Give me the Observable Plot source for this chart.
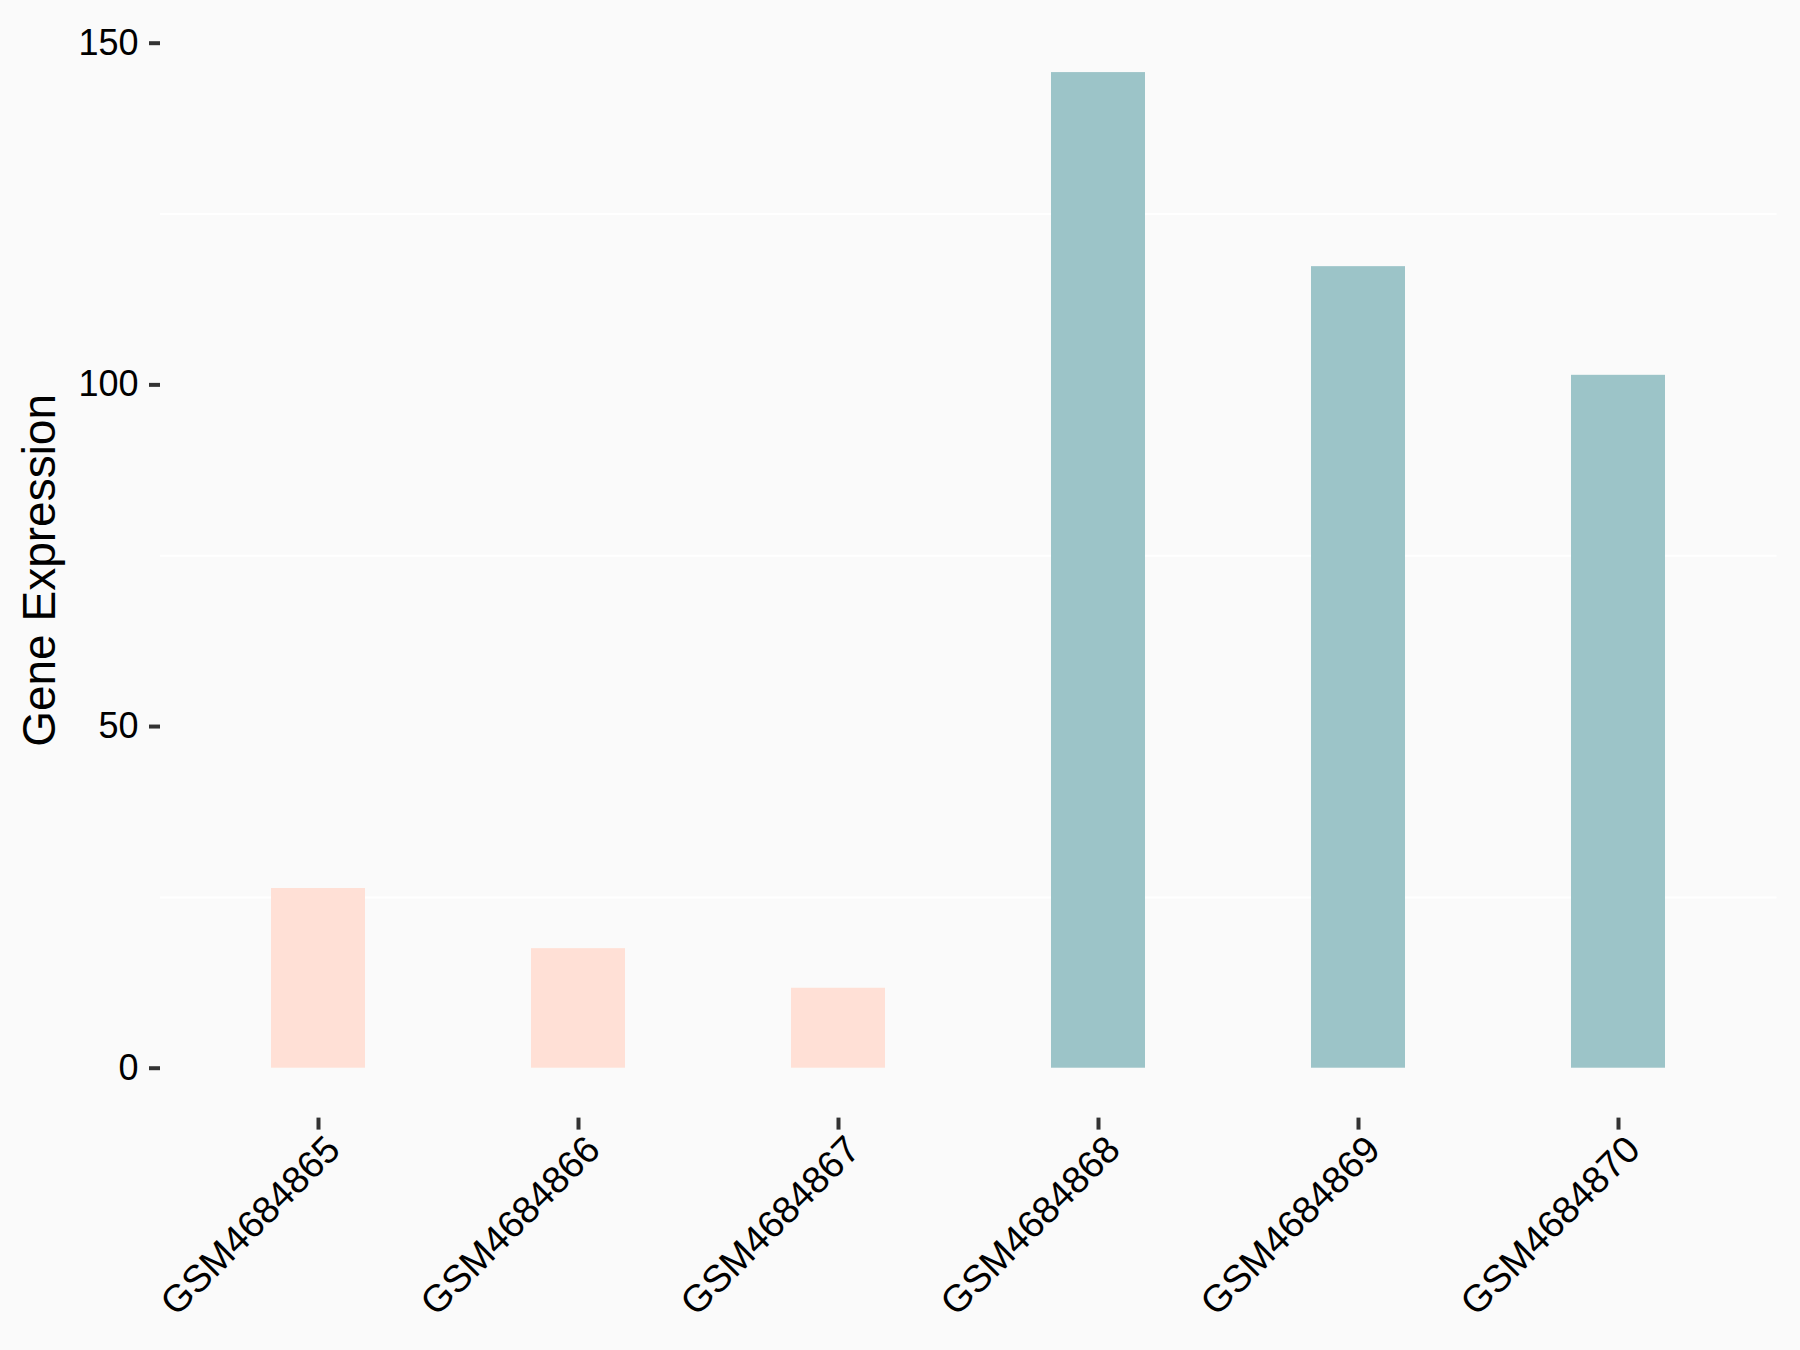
<!DOCTYPE html>
<html>
<head>
<meta charset="utf-8">
<script src="https://cdn.jsdelivr.net/npm/d3@7"></script>
<script src="https://cdn.jsdelivr.net/npm/@observablehq/plot@0.6"></script>
<style>
  html, body { margin: 0; padding: 0; background: #FAFAFA; }
  svg { display: block; }
</style>
</head>
<body>
<div id="chart"></div>
<script>
const samples = ["GSM4684865", "GSM4684866", "GSM4684867", "GSM4684868", "GSM4684869", "GSM4684870"];
const expression = [26.3, 17.5, 11.7, 145.7, 117.3, 101.4];
const groups = ["low", "low", "low", "high", "high", "high"];
const yTicks = [0, 50, 100, 150];
const gridValues = [25, 75, 125];
const yLabel = "Gene Expression";

const data = samples.map((s, i) => ({sample: s, value: expression[i], group: groups[i]}));

const chart = Plot.plot({
  width: 1800,
  height: 1350,
  marginLeft: 160,
  marginRight: 23.5,
  marginTop: 22.2,
  marginBottom: 232.4,
  style: {background: "#FAFAFA", fontFamily: "'Liberation Sans', Arial, sans-serif", color: "#000"},
  x: {domain: samples, paddingInner: 0.64, paddingOuter: 0.42},
  y: {domain: [-7.3, 153]},
  color: {domain: ["low", "high"], range: ["#FFE0D6", "#9CC4C8"]},
  marks: [
    Plot.ruleY(gridValues, {stroke: "#FFFFFF", strokeWidth: 2}),
    Plot.barY(data, {x: "sample", y: "value", fill: "group"}),
    Plot.axisY(yTicks, {tickSize: 11, tickPadding: 11, fontSize: 36, stroke: "#333333", strokeWidth: 4, label: null, fill: "#000"}),
    Plot.axisX({tickSize: 12, stroke: "#333333", strokeWidth: 4, label: null, fill: "none", fontSize: 1}),
    Plot.axisX({tickSize: 0, tickPadding: 22, tickRotate: -45, fontSize: 38, dx: 15, dy: 3, label: null, fill: "#000"}),
    Plot.text([yLabel], {frameAnchor: "left", rotate: -90, dx: -120, fontSize: 46, fill: "#000", textAnchor: "middle"})
  ]
});

document.getElementById("chart").appendChild(chart);
</script>
</body>
</html>
